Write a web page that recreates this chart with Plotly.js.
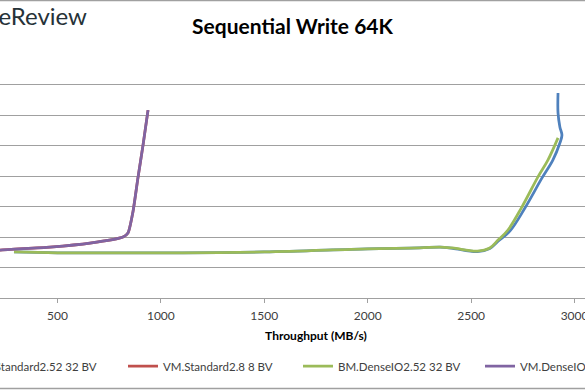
<!DOCTYPE html>
<html>
<head>
<meta charset="utf-8">
<script src="https://cdn.plot.ly/plotly-3.0.1.min.js"></script>
<style>
html, body { margin: 0; padding: 0; width: 585px; height: 390px; overflow: hidden; background: #fff; }
#chart { position: absolute; left: -100px; top: 0; width: 800px; height: 390px; }
</style>
</head>
<body>
<div id="chart"></div>
<script>
// Throughput (MB/s) vs latency (ms)
var seriesNames = ["BM.Standard2.52 32 BV", "VM.Standard2.8 8 BV", "BM.DenseIO2.52 32 BV", "VM.DenseIO2.8 8 BV"];
var seriesColors = ["#4F81BD", "#C0504D", "#9BBB59", "#8064A2"];

var bmStandardX = [290, 500, 1000, 1500, 2000, 2250, 2350, 2410, 2530, 2590, 2630, 2688, 2760, 2842, 2895, 2929, 2939, 2929, 2920, 2920];
var bmStandardY = [1.51, 1.48, 1.48, 1.51, 1.61, 1.64, 1.67, 1.63, 1.52, 1.62, 1.86, 2.20, 2.95, 3.93, 4.52, 5.08, 5.34, 5.61, 6.07, 6.72];

var vmStandardX = [120, 222, 464, 657, 817, 841, 865, 889, 914, 938];
var vmStandardY = [1.50, 1.57, 1.67, 1.80, 2.00, 2.13, 2.82, 3.93, 5.02, 6.16];

var bmDenseX = [290, 500, 1000, 1500, 2000, 2250, 2350, 2410, 2530, 2590, 2630, 2678, 2745, 2823, 2871, 2920];
var bmDenseY = [1.51, 1.48, 1.48, 1.51, 1.61, 1.64, 1.67, 1.64, 1.54, 1.64, 1.90, 2.23, 2.98, 3.97, 4.52, 5.25];

var vmDenseX = [120, 222, 464, 657, 817, 841, 865, 889, 914, 938];
var vmDenseY = [1.50, 1.57, 1.67, 1.80, 2.00, 2.13, 2.82, 3.93, 5.02, 6.16];

var xTickVals = [500, 1000, 1500, 2000, 2500, 3000];
var xTickText = ["500", "1000", "1500", "2000", "2500", "3000"];
var yTickVals = [0, 1, 2, 3, 4, 5, 6, 7, 8];

var legendWidths = [144, 130, 137, 110];
var smoothings = [1.0, 0.6, 1.0, 0.6];

var xs = [bmStandardX, vmStandardX, bmDenseX, vmDenseX];
var ys = [bmStandardY, vmStandardY, bmDenseY, vmDenseY];

var traces = seriesNames.map(function (n, i) {
  return {
    x: xs[i], y: ys[i], name: n, type: "scatter", mode: "lines",
    line: { color: seriesColors[i], width: 2.75, shape: "spline", smoothing: smoothings[i] },
    legendwidth: legendWidths[i],
    hoverinfo: "skip"
  };
});

var W = 800, H = 390, ML = 54, MR = 22, MT = 54, MB = 92;
var PW = W - ML - MR, PH = H - MT - MB;
function px2paperX(px) { return (px - ML) / PW; }
function px2paperY(py) { return (H - MB - py) / PH; }

var layout = {
  width: W, height: H,
  margin: { l: ML, r: MR, t: MT, b: MB, autoexpand: false },
  paper_bgcolor: "#ffffff", plot_bgcolor: "#ffffff",
  font: { family: "Lato, 'Liberation Sans', sans-serif", color: "#404040" },
  title: {
    text: "Sequential Write 64K",
    font: { family: "Lato, sans-serif", size: 21, color: "#000000", weight: "bold" },
    xref: "container", x: 392.5 / W, xanchor: "center",
    yref: "container", y: 1 - 27 / H, yanchor: "middle"
  },
  xaxis: {
    range: [0, 3500], tickvals: xTickVals, ticktext: xTickText,
    showgrid: false, zeroline: false,
    showline: true, linecolor: "#a0a0a0", linewidth: 1,
    ticks: "outside", ticklen: 4, tickcolor: "#a0a0a0",
    ticklabelstandoff: 3,
    tickfont: { family: "Lato, sans-serif", size: 12, color: "#404040" },
    title: { text: "Throughput (MB/s)", standoff: 9,
      font: { family: "Lato, sans-serif", size: 12, color: "#000000", weight: "bold" } }
  },
  yaxis: {
    range: [0, 8], tickvals: yTickVals, showticklabels: false,
    showgrid: true, gridcolor: "#a0a0a0", gridwidth: 1,
    zeroline: false, showline: false, ticks: ""
  },
  showlegend: true,
  legend: {
    orientation: "h", xref: "paper", x: px2paperX(34), xanchor: "left",
    y: px2paperY(366), yanchor: "middle",
    font: { family: "Lato, sans-serif", size: 11.5, color: "#404040" },
    bgcolor: "rgba(0,0,0,0)", borderwidth: 0, traceorder: "normal"
  },
  annotations: [{
    text: "StorageReview", showarrow: false,
    xref: "paper", yref: "paper",
    x: px2paperX(189), xanchor: "right",
    y: px2paperY(16), yanchor: "middle",
    font: { family: "Lato, sans-serif", size: 24, color: "#263238" }
  }],
  shapes: [
    { type: "line", xref: "paper", yref: "paper", x0: px2paperX(0), x1: px2paperX(W), y0: px2paperY(0.5), y1: px2paperY(0.5), line: { color: "#a0a0a0", width: 1.5 } },
    { type: "line", xref: "paper", yref: "paper", x0: px2paperX(0), x1: px2paperX(W), y0: px2paperY(388.5), y1: px2paperY(388.5), line: { color: "#a0a0a0", width: 1.5 } }
  ]
};

Plotly.newPlot("chart", traces, layout, { displayModeBar: false, staticPlot: true });
</script>
</body>
</html>
